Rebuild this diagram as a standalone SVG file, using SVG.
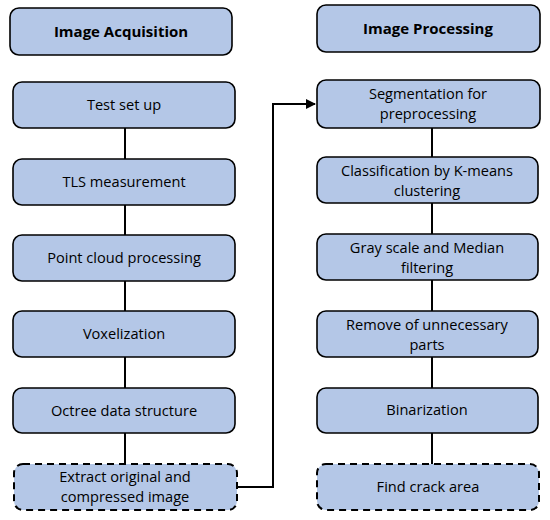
<svg xmlns="http://www.w3.org/2000/svg" width="550" height="520" viewBox="0 0 550 520">
<defs>
<marker id="arr" markerWidth="10" markerHeight="10" refX="9" refY="5" orient="auto" markerUnits="userSpaceOnUse">
<path d="M0,0 L10,5 L0,10 Z" fill="#000"/>
</marker>
<style>
.box{fill:#b4c7e7;stroke:#000;stroke-width:1.6}
.dash{stroke-dasharray:7,5;stroke-width:2}
.t{font-family:"Open Sans","Liberation Sans",sans-serif;font-size:14.6px;fill:#000;text-anchor:middle}
.h{font-weight:bold;font-size:15px}
.c{fill:none;stroke:#000;stroke-width:2}
</style>
</defs>
<rect width="550" height="520" fill="#fff"/>
<g id="connectors">
<line class="c" x1="125" y1="128" x2="125" y2="160"/>
<line class="c" x1="125" y1="205" x2="125" y2="235"/>
<line class="c" x1="125" y1="281" x2="125" y2="311"/>
<line class="c" x1="125" y1="357" x2="125" y2="388"/>
<line class="c" x1="125" y1="433" x2="125" y2="464"/>
<polyline class="c" points="237,487 273,487 273,104 315,104" marker-end="url(#arr)"/>
<line class="c" x1="432" y1="128" x2="432" y2="157"/>
<line class="c" x1="432" y1="203" x2="432" y2="234"/>
<line class="c" x1="432" y1="280" x2="432" y2="311"/>
<line class="c" x1="432" y1="357" x2="432" y2="388"/>
<line class="c" x1="432" y1="433" x2="432" y2="464"/>
</g>
<g id="hdr-acq"><rect class="box" x="10" y="8" width="222" height="47" rx="9"/><text class="t h" x="121" y="37">Image Acquisition</text></g>
<g id="n-test"><rect class="box" x="13" y="82" width="222" height="46" rx="9"/><text class="t" x="124" y="110">Test set up</text></g>
<g id="n-tls"><rect class="box" x="13" y="159" width="222" height="46" rx="9"/><text class="t" x="124" y="187">TLS measurement</text></g>
<g id="n-pc"><rect class="box" x="13" y="235" width="222" height="46" rx="9"/><text class="t" x="124" y="263">Point cloud processing</text></g>
<g id="n-vox"><rect class="box" x="13" y="311" width="222" height="46" rx="9"/><text class="t" x="124" y="339">Voxelization</text></g>
<g id="n-oct"><rect class="box" x="13" y="388" width="222" height="45" rx="9"/><text class="t" x="124" y="416">Octree data structure</text></g>
<g id="n-ext"><rect class="box dash" x="14" y="464" width="223" height="46" rx="9"/><text class="t" x="125" y="482">Extract original and</text><text class="t" x="125" y="502">compressed image</text></g>
<g id="hdr-proc"><rect class="box" x="317" y="5" width="223" height="47" rx="9"/><text class="t h" x="428" y="34">Image Processing</text></g>
<g id="n-seg"><rect class="box" x="317" y="80" width="223" height="48" rx="9"/><text class="t" x="428" y="99">Segmentation for</text><text class="t" x="428" y="119">preprocessing</text></g>
<g id="n-cls"><rect class="box" x="317" y="157" width="221" height="46" rx="9"/><text class="t" x="427" y="176">Classification by K-means</text><text class="t" x="427" y="196">clustering</text></g>
<g id="n-gray"><rect class="box" x="317" y="234" width="221" height="46" rx="9"/><text class="t" x="427" y="253">Gray scale and Median</text><text class="t" x="427" y="273">filtering</text></g>
<g id="n-rem"><rect class="box" x="317" y="311" width="221" height="46" rx="9"/><text class="t" x="427" y="330">Remove of unnecessary</text><text class="t" x="427" y="350">parts</text></g>
<g id="n-bin"><rect class="box" x="317" y="388" width="221" height="45" rx="9"/><text class="t" x="427" y="415">Binarization</text></g>
<g id="n-crack"><rect class="box dash" x="317" y="464" width="222" height="46" rx="9"/><text class="t" x="428" y="492">Find crack area</text></g>
</svg>
